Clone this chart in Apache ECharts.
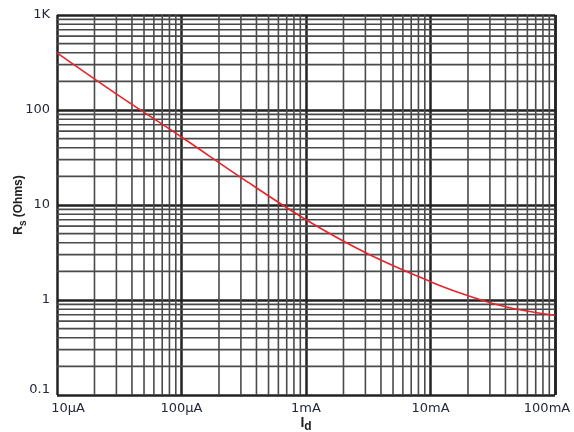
<!DOCTYPE html>
<html>
<head>
<meta charset="utf-8">
<script src="https://cdn.jsdelivr.net/npm/echarts@6/dist/echarts.min.js"></script>
<style>html,body{margin:0;padding:0;background:#fff}#c{width:574px;height:432px}</style>
</head>
<body>
<div id="c"></div>
<script>
// Current Id (A)
const currentA = [1e-5, 3.16e-5, 1e-4, 3.16e-4, 1e-3, 3.16e-3, 1e-2, 1.78e-2, 3.16e-2, 5.62e-2, 1e-1];
// Rs (Ohms)
const rsOhms = [400, 141, 52, 18.6, 7.0, 3.05, 1.56, 1.17, 0.92, 0.775, 0.69];
// Tick labels
const xTickLabels = {'-5': '10µA', '-4': '100µA', '-3': '1mA', '-2': '10mA', '-1': '100mA'};
const yTickLabels = {'-1': '0.1', '0': '1', '1': '10', '2': '100', '3': '1K'};
// Minor grid multipliers
const minorMult = [2, 3, 4, 5, 6, 7, 8, 9];
const xDecades = [1e-5, 1e-4, 1e-3, 1e-2];
const yDecades = [0.1, 1, 10, 100];
const xRange = [1e-5, 0.1];
const yRange = [0.1, 1000];

const labelColor = '#23283a';
const font = '"Liberation Sans", Arial, Helvetica, sans-serif';
const tickFont = '"DejaVu Sans", "Liberation Sans", sans-serif';
const minorStyle = {color: '#4a4a4a', width: 1.6};

const series = [];
xDecades.forEach(d => minorMult.forEach(m => {
  const v = d * m;
  series.push({type: 'line', silent: true, showSymbol: false, z: 1, lineStyle: minorStyle,
    data: [[v, yRange[0]], [v, yRange[1]]]});
}));
yDecades.forEach(d => minorMult.forEach(m => {
  const v = d * m;
  series.push({type: 'line', silent: true, showSymbol: false, z: 1, lineStyle: minorStyle,
    data: [[xRange[0], v], [xRange[1], v]]});
}));
series.push({
  type: 'line',
  data: currentA.map((x, i) => [x, rsOhms[i]]),
  smooth: 0.35,
  showSymbol: false,
  z: 5,
  lineStyle: {color: '#e8252b', width: 1.6}
});

const chart = echarts.init(document.getElementById('c'), null, {renderer: 'canvas'});
chart.setOption({
  animation: false,
  backgroundColor: '#fff',
  grid: {left: 57, right: 19, top: 15, bottom: 37, containLabel: false, outerBoundsMode: 'none'},
  xAxis: {
    type: 'log', logBase: 10, min: xRange[0], max: xRange[1],
    axisLine: {show: false}, axisTick: {show: false},
    splitLine: {show: true, lineStyle: {color: '#222', width: 2.5}},
    axisLabel: {
      margin: 7, color: labelColor, fontSize: 13, fontFamily: tickFont,
      formatter: function (v) {
        const k = String(Math.round(Math.log10(v)));
        const t = xTickLabels[k] || '';
        if (k === '-5') return '{first|' + t + '}';
        if (k === '-1') return '{last|' + t + '}';
        return t;
      },
      rich: {
        first: {color: labelColor, fontSize: 13, fontFamily: tickFont, padding: [0, 0, 0, 22]},
        last: {color: labelColor, fontSize: 13, fontFamily: tickFont, padding: [0, 16, 0, 0]}
      }
    },
    name: '{b|I}{s|d}', nameLocation: 'middle', nameGap: 21, nameMoveOverlap: false,
    nameTextStyle: {
      rich: {
        b: {fontSize: 14, fontWeight: 'bold', color: '#222', fontFamily: font, lineHeight: 14, verticalAlign: 'top'},
        s: {fontSize: 12, fontWeight: 'bold', color: '#222', fontFamily: font, lineHeight: 14, verticalAlign: 'top', padding: [5, 0, 0, 0]}
      }
    }
  },
  yAxis: {
    type: 'log', logBase: 10, min: yRange[0], max: yRange[1],
    axisLine: {show: false}, axisTick: {show: false},
    splitLine: {show: true, lineStyle: {color: '#222', width: 2.5}},
    axisLabel: {
      margin: 7, color: labelColor, fontSize: 13, fontFamily: tickFont,
      formatter: function (v) {
        const k = String(Math.round(Math.log10(v)));
        const t = yTickLabels[k] || '';
        if (k === '-1') return '{low|' + t + '}';
        return t;
      },
      rich: {
        low: {color: labelColor, fontSize: 13, fontFamily: tickFont, padding: [0, 0, 10, 0]}
      }
    },
    name: '{b|R}{s|s}{b| (Ohms)}', nameLocation: 'middle', nameGap: 31, nameRotate: 90, nameMoveOverlap: false,
    nameTextStyle: {
      rich: {
        b: {fontSize: 12, fontWeight: 'bold', color: '#222', fontFamily: font, lineHeight: 13, verticalAlign: 'top'},
        s: {fontSize: 10, fontWeight: 'bold', color: '#222', fontFamily: font, lineHeight: 13, verticalAlign: 'top', padding: [5, 0, 0, 0]}
      }
    }
  },
  series: series
});
</script>
</body>
</html>
